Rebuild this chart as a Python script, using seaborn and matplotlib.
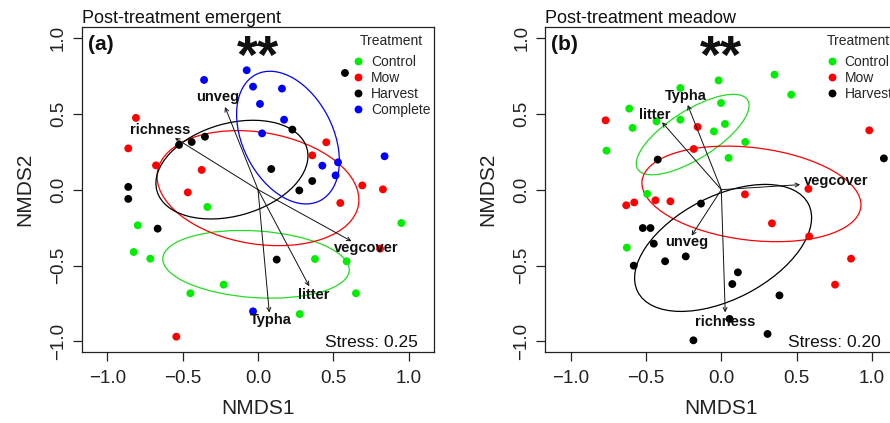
import matplotlib
matplotlib.use("Agg")
import matplotlib.pyplot as plt
import seaborn as sns
import pandas as pd
from matplotlib.patches import Ellipse

# ---------------- data ----------------
treatments = ["Control", "Mow", "Harvest", "Complete"]
colors = {"Control": "#00ee00", "Mow": "#ff0000", "Harvest": "#000000", "Complete": "#0000ff"}

# Panel (a) post-treatment emergent
a_control_x = [-0.336, -0.798, 0.951, -0.825, -0.715, 0.378, 0.588, -0.228, -0.449, 0.65, 0.277]
a_control_y = [-0.114, -0.235, -0.22, -0.411, -0.455, -0.457, -0.472, -0.626, -0.683, -0.683, -0.82]
a_mow_x = [-0.81, 0.453, -0.861, 0.36, -0.677, -0.374, 0.692, 0.829, -0.466, 0.546, 0.81, -0.542]
a_mow_y = [0.473, 0.312, 0.272, 0.226, 0.16, 0.13, 0.028, 0.002, -0.018, -0.088, -0.389, -0.969]
a_harvest_x = [0.577, 0.228, -0.352, -0.44, -0.524, 0.088, 0.36, -0.861, 0.274, -0.861, -0.666, 0.124]
a_harvest_y = [0.769, 0.396, 0.349, 0.314, 0.295, 0.136, 0.057, 0.018, -0.005, -0.061, -0.257, -0.461]
a_complete_x = [-0.075, -0.358, -0.033, 0.159, 0.013, 0.173, 0.027, 0.84, 0.531, 0.427, 0.515, -0.033]
a_complete_y = [0.787, 0.723, 0.679, 0.666, 0.565, 0.461, 0.371, 0.22, 0.18, 0.158, 0.094, -0.802]

a_vec_names = ["unveg", "richness", "vegcover", "litter", "Typha"]
a_vec_x = [-0.219, -0.551, 0.62, 0.34, 0.075]
a_vec_y = [0.545, 0.341, -0.34, -0.637, -0.81]
a_vec_label_x = [-0.27, -0.65, 0.717, 0.372, 0.084]
a_vec_label_y = [0.61, 0.39, -0.385, -0.697, -0.862]

a_ell_groups = ["Control", "Mow", "Harvest", "Complete"]
a_ell_cx = [-0.013, 0.0, -0.173, 0.199]
a_ell_cy = [-0.492, 0.01, 0.132, 0.343]
a_ell_semi_major = [0.62, 0.676, 0.517, 0.467]
a_ell_semi_minor = [0.22, 0.368, 0.305, 0.299]
a_ell_angle = [-3.7, -9.3, 15.7, 117.2]

# Panel (b) post-treatment meadow
b_control_x = [-0.018, 0.353, -0.272, 0.464, -0.002, -0.611, -0.589, -0.43, -0.272, 0.024, -0.049, 0.159, -0.762, 0.048, -0.492, -0.627]
b_control_y = [0.72, 0.758, 0.67, 0.626, 0.571, 0.534, 0.407, 0.45, 0.461, 0.433, 0.384, 0.314, 0.257, 0.209, -0.028, -0.382]
b_mow_x = [-0.768, -0.157, 0.982, -0.183, 0.157, 0.578, -0.631, -0.578, -0.437, -0.338, 0.336, 0.583, 0.861, 0.755]
b_mow_y = [0.457, 0.413, 0.391, 0.268, -0.031, 0.005, -0.103, -0.084, -0.07, -0.077, -0.222, -0.308, -0.455, -0.626]
b_harvest_x = [-0.422, 1.079, -0.135, -0.521, -0.47, -0.448, -0.236, -0.373, -0.581, 0.11, 0.073, 0.386, 0.055, 0.307, -0.185]
b_harvest_y = [0.198, 0.206, -0.092, -0.253, -0.253, -0.356, -0.44, -0.472, -0.501, -0.545, -0.622, -0.697, -0.852, -0.951, -0.993]

b_vec_names = ["Typha", "litter", "vegcover", "unveg", "richness"]
b_vec_x = [-0.223, -0.393, 0.523, -0.197, 0.026]
b_vec_y = [0.558, 0.444, 0.033, -0.303, -0.809]
b_vec_label_x = [-0.238, -0.444, 0.762, -0.227, 0.026]
b_vec_label_y = [0.62, 0.49, 0.055, -0.347, -0.87]

b_ell_groups = ["Control", "Mow", "Harvest"]
b_ell_cx = [-0.19, 0.2, 0.012]
b_ell_cy = [0.363, -0.028, -0.384]
b_ell_semi_major = [0.43, 0.731, 0.636]
b_ell_semi_minor = [0.16, 0.305, 0.34]
b_ell_angle = [32.0, -6.8, 27.0]

x_ticks = [-1.0, -0.5, 0.0, 0.5, 1.0]
tick_labels = ["\u22121.0", "\u22120.5", "0.0", "0.5", "1.0"]

panel_titles = ["Post-treatment emergent", "Post-treatment meadow"]
panel_tags = ["(a)", "(b)"]
stress_labels = ["Stress: 0.25", "Stress: 0.20"]


def make_df(groups):
    rows = []
    for name, xs, ys in groups:
        for x, y in zip(xs, ys):
            rows.append({"NMDS1": x, "NMDS2": y, "Treatment": name})
    return pd.DataFrame(rows)


df_a = make_df([("Control", a_control_x, a_control_y), ("Mow", a_mow_x, a_mow_y),
                ("Harvest", a_harvest_x, a_harvest_y), ("Complete", a_complete_x, a_complete_y)])
df_b = make_df([("Control", b_control_x, b_control_y), ("Mow", b_mow_x, b_mow_y),
                ("Harvest", b_harvest_x, b_harvest_y)])

# ---------------- styling ----------------
sns.set_theme(style="white")
plt.rcParams["font.family"] = ["Liberation Sans", "DejaVu Sans"]

fig = plt.figure(figsize=(8.9, 4.23), dpi=100)
W, H = 890.0, 423.0
ax_a = fig.add_axes([81.7 / W, 71 / H, 352.6 / W, 324.7 / H])
ax_b = fig.add_axes([545.0 / W, 71 / H, 352.6 / W, 324.7 / H])


def draw_panel(ax, df, hue_order, vx, vy, vnames, lx, ly, eg, ecx, ecy, ea, eb, eang,
               title, tag, stress, legend_x):
    sns.scatterplot(data=df, x="NMDS1", y="NMDS2", hue="Treatment", hue_order=hue_order,
                    palette=colors, s=32, linewidth=0, ax=ax, zorder=3)
    for g, cx, cy, a, b, ang in zip(eg, ecx, ecy, ea, eb, eang):
        ax.add_patch(Ellipse((cx, cy), 2 * a, 2 * b, angle=ang, fill=False,
                             edgecolor=colors[g] if g != "Control" else "#22dd22",
                             lw=0.9, zorder=2))
    for x, y, n, tx, ty in zip(vx, vy, vnames, lx, ly):
        ax.annotate("", xy=(x, y), xytext=(0, 0),
                    arrowprops=dict(arrowstyle="->", lw=0.7, color="#111111",
                                    shrinkA=0, shrinkB=0, mutation_scale=7), zorder=4)
        ax.text(tx, ty, n, ha="center", va="center", fontsize=10.5, fontweight="bold",
                color="#111111", zorder=5)
    ax.set_xlim(-1.17, 1.17)
    ax.set_ylim(-1.07, 1.07)
    ax.set_xticks(x_ticks)
    ax.set_xticklabels(tick_labels)
    ax.set_yticks(x_ticks)
    ax.set_yticklabels(tick_labels, rotation=90, va="center")
    ax.tick_params(direction="out", length=6.2, width=0.9, labelsize=13.5, colors="#222222",
                   bottom=True, left=True)
    ax.tick_params(axis="x", pad=6.5)
    ax.tick_params(axis="y", pad=4.5)
    for sp in ax.spines.values():
        sp.set_color("#222222")
        sp.set_linewidth(0.9)
    ax.set_xlabel("NMDS1", fontsize=15, color="#222222")
    ax.set_ylabel("NMDS2", fontsize=15, color="#222222")
    ax.xaxis.label.set_va("center")
    ax.yaxis.label.set_va("center")
    ax.xaxis.set_label_coords(0.5, -0.1755)
    ax.yaxis.set_label_coords(-0.162, 0.5)
    ax.set_title(title, loc="left", fontsize=13, pad=3, color="#111111")
    ax.text(0.017, 0.948, tag, transform=ax.transAxes, ha="left", va="center",
            fontsize=15, fontweight="bold", color="#111111")
    ax.text(0.5, 0.858, "**", transform=ax.transAxes, ha="center", va="baseline",
            fontsize=39, fontweight="bold", color="#111111")
    ax.text(0.953, 0.03, stress, transform=ax.transAxes, ha="right", va="center",
            fontsize=12.5, color="#111111")
    sns.move_legend(ax, loc="upper left", bbox_to_anchor=(legend_x, 0.98), frameon=False,
                    title="Treatment", fontsize=10, title_fontsize=10, handlelength=1.0,
                    handletextpad=0.4, labelspacing=0.15, borderpad=0, borderaxespad=0)
    leg = ax.get_legend()
    leg._legend_box.sep = 5


draw_panel(ax_a, df_a, treatments, a_vec_x, a_vec_y, a_vec_names, a_vec_label_x, a_vec_label_y,
           a_ell_groups, a_ell_cx, a_ell_cy, a_ell_semi_major, a_ell_semi_minor, a_ell_angle,
           panel_titles[0], panel_tags[0], stress_labels[0], 0.765)
draw_panel(ax_b, df_b, treatments[:3], b_vec_x, b_vec_y, b_vec_names, b_vec_label_x, b_vec_label_y,
           b_ell_groups, b_ell_cx, b_ell_cy, b_ell_semi_major, b_ell_semi_minor, b_ell_angle,
           panel_titles[1], panel_tags[1], stress_labels[1], 0.794)

fig.savefig("out.png", dpi=100)
